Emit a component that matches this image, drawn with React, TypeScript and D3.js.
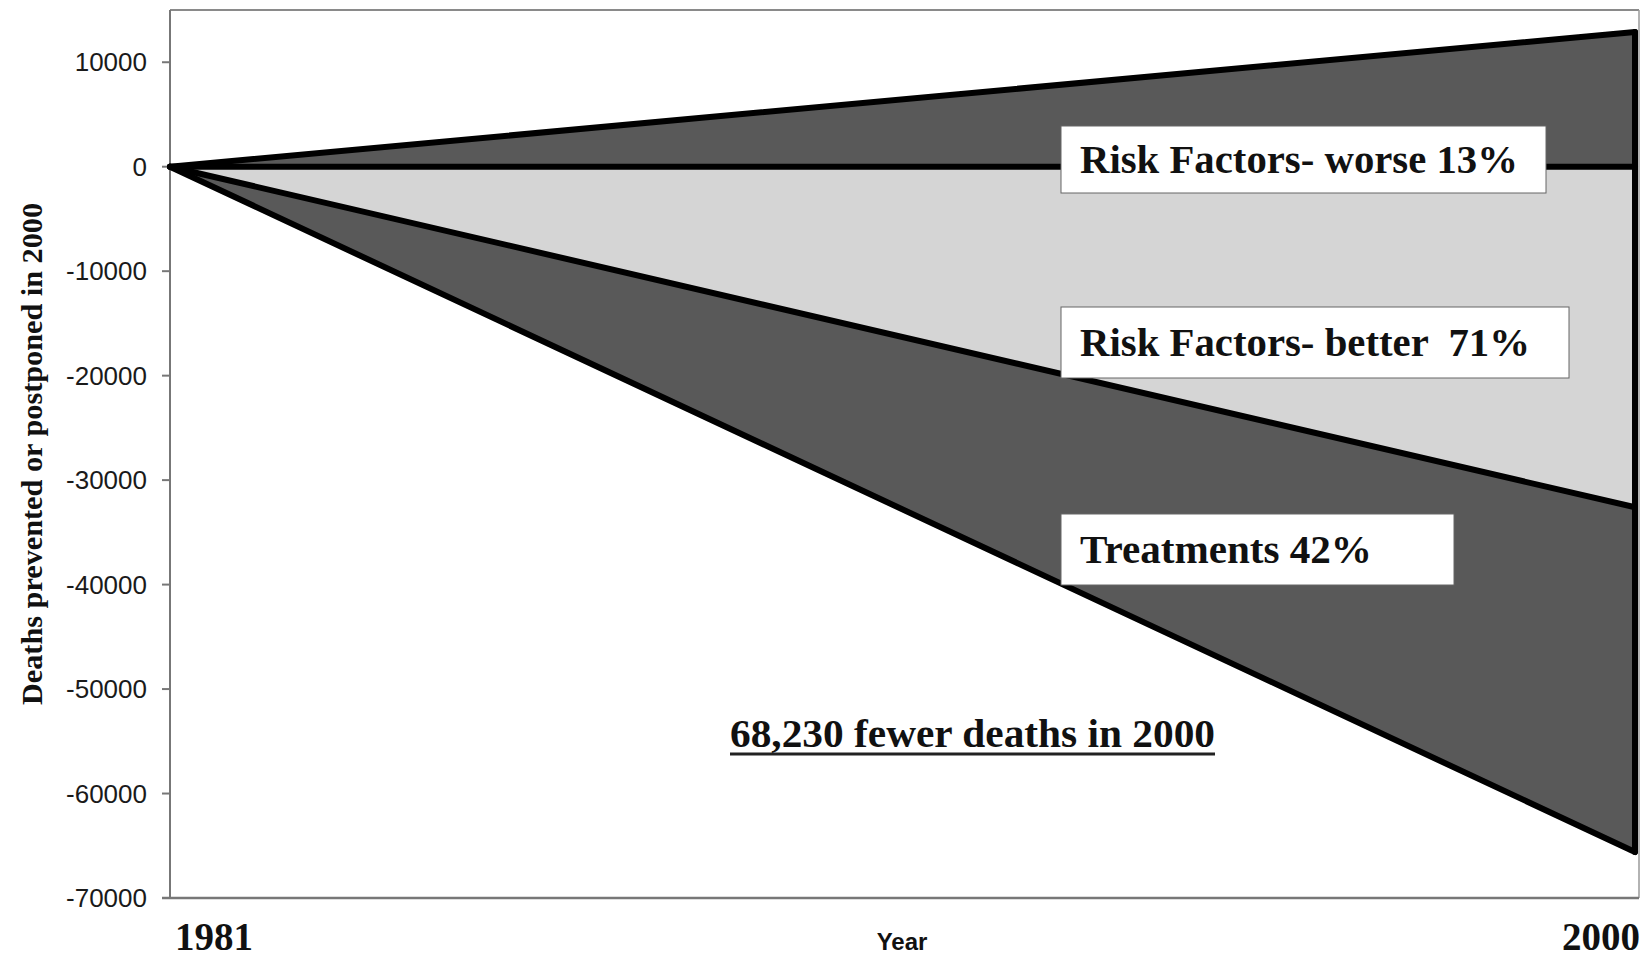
import React from "react";
import * as d3 from "d3";

// ---- data ----
const years = [1981, 2000];
const riskWorse = [0, 12900]; // deaths added by worsening risk factors
const riskBetter = [0, -32600]; // deaths prevented by improving risk factors
const treatments = [0, -33000]; // deaths prevented by treatments (stacked under riskBetter)
const yTicks = [10000, 0, -10000, -20000, -30000, -40000, -50000, -60000, -70000];
const yDomain = [-70000, 15000];
const seriesLabels = ["Risk Factors- worse 13%", "Risk Factors- better  71%", "Treatments 42%"];
const annotation = "68,230 fewer deaths in 2000";
const yTitle = "Deaths prevented or postponed in 2000";
const xTitle = "Year";

const W = 1646;
const H = 956;
const plot = { left: 170, right: 1635, frameRight: 1639, top: 10, bottom: 898 };

const SERIF = "'Liberation Serif', 'Times New Roman', serif";
const SANS = "'Liberation Sans', Arial, sans-serif";

export default function App() {
  const x = d3.scaleLinear().domain([years[0], years[years.length - 1]]).range([plot.left, plot.right]);
  const y = d3.scaleLinear().domain(yDomain).range([plot.bottom, plot.top]);

  const rows = years.map((yr, i) => ({
    yr,
    worse: riskWorse[i],
    better: riskBetter[i],
    treatLow: riskBetter[i] + treatments[i],
  }));

  const worseArea = d3
    .area<any>()
    .x((d) => x(d.yr))
    .y0(() => y(0))
    .y1((d) => y(d.worse))(rows) as string;
  const betterArea = d3
    .area<any>()
    .x((d) => x(d.yr))
    .y0(() => y(0))
    .y1((d) => y(d.better))(rows) as string;
  const treatArea = d3
    .area<any>()
    .x((d) => x(d.yr))
    .y0((d) => y(d.better))
    .y1((d) => y(d.treatLow))(rows) as string;

  const line = (acc: (d: any) => number) =>
    d3
      .line<any>()
      .x((d) => x(d.yr))
      .y((d) => y(acc(d)))(rows) as string;

  const last = rows[rows.length - 1];
  const dark = "#595959";
  const light = "#d5d5d5";

  const boxes = [
    { x0: 1061, x1: 1546, y0: 126, y1: 193, tx: 1080, ty: 173, len: 438 },
    { x0: 1061, x1: 1569, y0: 307, y1: 378, tx: 1080, ty: 356, len: 450 },
    { x0: 1061, x1: 1454, y0: 514, y1: 585, tx: 1080, ty: 563, len: 292 },
  ];

  return (
    <svg
      width={W}
      height={H}
      style={{ position: "absolute", left: 0, top: 0, display: "block", background: "#fff" }}
    >
      {/* frame */}
      <line x1={plot.left} x2={plot.frameRight} y1={plot.top} y2={plot.top} stroke="#8a8a8a" strokeWidth={2} />
      <line x1={plot.frameRight} x2={plot.frameRight} y1={plot.top} y2={plot.bottom} stroke="#9a9a9a" strokeWidth={1.5} />
      <line x1={plot.left} x2={plot.left} y1={plot.top} y2={plot.bottom} stroke="#777" strokeWidth={2} />
      <line x1={plot.left - 8} x2={plot.frameRight} y1={plot.bottom} y2={plot.bottom} stroke="#777" strokeWidth={2.5} />

      {/* y ticks */}
      {yTicks.map((t) => (
        <g key={t}>
          <line x1={plot.left - 8} x2={plot.left} y1={y(t)} y2={y(t)} stroke="#777" strokeWidth={2} />
          <text
            x={147}
            y={y(t) + 9}
            textAnchor="end"
            fontFamily={SANS}
            fontSize={26}
            fill="#1a1a1a"
          >
            {t}
          </text>
        </g>
      ))}

      {/* areas */}
      <path d={worseArea} fill={dark} />
      <path d={betterArea} fill={light} />
      <path d={treatArea} fill={dark} />

      {/* outlines */}
      <g stroke="#000" strokeWidth={6} fill="none" strokeLinejoin="round" strokeLinecap="round">
        <path d={line((d) => d.worse)} />
        <path d={line(() => 0)} />
        <path d={line((d) => d.better)} />
        <path d={line((d) => d.treatLow)} />
        <line x1={x(last.yr)} x2={x(last.yr)} y1={y(last.worse)} y2={y(last.treatLow)} />
      </g>

      {/* series label boxes */}
      {boxes.map((b, i) => (
        <g key={i}>
          <rect x={b.x0} y={b.y0} width={b.x1 - b.x0} height={b.y1 - b.y0} fill="#fff" stroke="#666" strokeWidth={1} />
          <text
            x={b.tx}
            y={b.ty}
            fontFamily={SERIF}
            fontWeight="bold"
            fontSize={40.5}
            fill="#111"
            textLength={b.len}
            lengthAdjust="spacingAndGlyphs"
            style={{ whiteSpace: "pre" }}
          >
            {seriesLabels[i]}
          </text>
        </g>
      ))}

      {/* annotation */}
      <text
        x={730}
        y={747}
        fontFamily={SERIF}
        fontWeight="bold"
        fontSize={41}
        fill="#111"
        textLength={485}
        lengthAdjust="spacingAndGlyphs"
      >
        {annotation}
      </text>
      <line x1={730} x2={1215} y1={754} y2={754} stroke="#222" strokeWidth={3} />

      {/* x labels */}
      <text x={175} y={950} fontFamily={SERIF} fontWeight="bold" fontSize={39} fill="#111">
        {years[0]}
      </text>
      <text x={1640} y={950} textAnchor="end" fontFamily={SERIF} fontWeight="bold" fontSize={39} fill="#111">
        {years[years.length - 1]}
      </text>
      <text x={902} y={950} textAnchor="middle" fontFamily={SANS} fontWeight="bold" fontSize={24} fill="#111">
        {xTitle}
      </text>

      {/* y title */}
      <text
        transform="translate(42,454) rotate(-90)"
        textAnchor="middle"
        fontFamily={SERIF}
        fontWeight="bold"
        fontSize={30}
        fill="#111"
        textLength={502}
        lengthAdjust="spacingAndGlyphs"
      >
        {yTitle}
      </text>
    </svg>
  );
}
